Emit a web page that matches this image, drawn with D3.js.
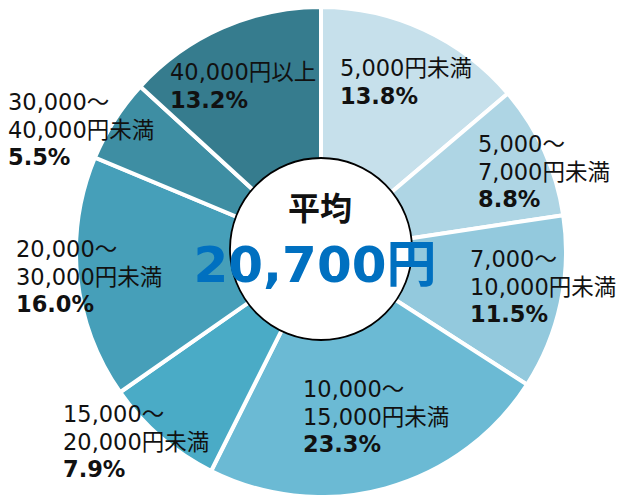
<!DOCTYPE html>
<html>
  <head>
    <meta charset="utf-8">
    <title>平均 20,700円</title>
    <script src="https://d3js.org/d3.v7.min.js"></script>
    <style>
      body { margin: 0; background: #fff; }
      text { font-family: "DejaVu Sans", "Noto Sans CJK JP", sans-serif; }
    </style>
  </head>
  <body>
    <script>
      // ==================
      // Data
      // ==================
      const rangeLines = [
        ["5,000円未満"],
        ["5,000～", "7,000円未満"],
        ["7,000～", "10,000円未満"],
        ["10,000～", "15,000円未満"],
        ["15,000～", "20,000円未満"],
        ["20,000～", "30,000円未満"],
        ["30,000～", "40,000円未満"],
        ["40,000円以上"]
      ];
      const shares = [13.8, 8.8, 11.5, 23.3, 7.9, 16.0, 5.5, 13.2];
      const centerTitle = "平均";
      const centerValue = "20,700円";

      // ==================
      // Layout
      // ==================
      const width = 617;
      const height = 495;
      const cx = 321;
      const cy = 252;
      const outerR = 245;
      const holeR = 91;
      const lineGap = 27.5;

      const colors = ["#c6e0eb", "#aed5e4", "#93c9dd", "#6bbad4",
                      "#4aabc6", "#469fb9", "#3e8ea3", "#367c8e"];

      // label block: left x and first baseline, relative to pie centre
      const labelAt = [
        [19, -176], [157, -100], [149, 15], [-18, 145],
        [-258, 170], [-305, 5], [-313, -142], [-151, -172]
      ];

      const svg = d3.select("body")
        .append("svg")
          .attr("width", width)
          .attr("height", height);

      const pie = d3.pie()
        .sort(null)
        .value(function(d) { return d; });

      const arc = d3.arc()
        .innerRadius(0)
        .outerRadius(outerR);

      const arcs = pie(shares);

      const g = svg.append("g")
        .attr("transform", "translate(" + cx + "," + cy + ")");

      g.selectAll("path.slice")
        .data(arcs)
        .enter()
        .append("path")
          .classed("slice", true)
          .attr("d", arc)
          .attr("fill", function(d, i) { return colors[i]; })
          .attr("stroke", "#fff")
          .attr("stroke-width", 4)
          .attr("stroke-linejoin", "miter");

      // centre hole
      g.append("circle")
        .attr("cx", 0)
        .attr("cy", -3)
        .attr("r", holeR)
        .attr("fill", "#fff")
        .attr("stroke", "#000")
        .attr("stroke-width", 1.8);

      g.append("text")
        .attr("x", -1)
        .attr("y", -32)
        .attr("text-anchor", "middle")
        .attr("font-size", 32)
        .attr("font-weight", "bold")
        .attr("fill", "#111")
        .text(centerTitle);

      g.append("text")
        .attr("x", -6)
        .attr("y", 30)
        .attr("text-anchor", "middle")
        .attr("font-size", 50)
        .attr("font-weight", "bold")
        .attr("fill", "#0070c0")
        .text(centerValue);

      // slice labels
      arcs.forEach(function(d, i) {
        const t = g.append("text")
          .attr("x", labelAt[i][0])
          .attr("y", labelAt[i][1])
          .attr("font-size", 22.5)
          .attr("fill", "#111");
        const lines = rangeLines[i];
        lines.forEach(function(s, k) {
          t.append("tspan")
            .attr("x", labelAt[i][0])
            .attr("dy", k === 0 ? 0 : lineGap)
            .text(s);
        });
        t.append("tspan")
          .attr("x", labelAt[i][0])
          .attr("dy", lineGap)
          .attr("font-weight", "bold")
          .text(d.data.toFixed(1) + "%");
      });
    </script>
  </body>
</html>
